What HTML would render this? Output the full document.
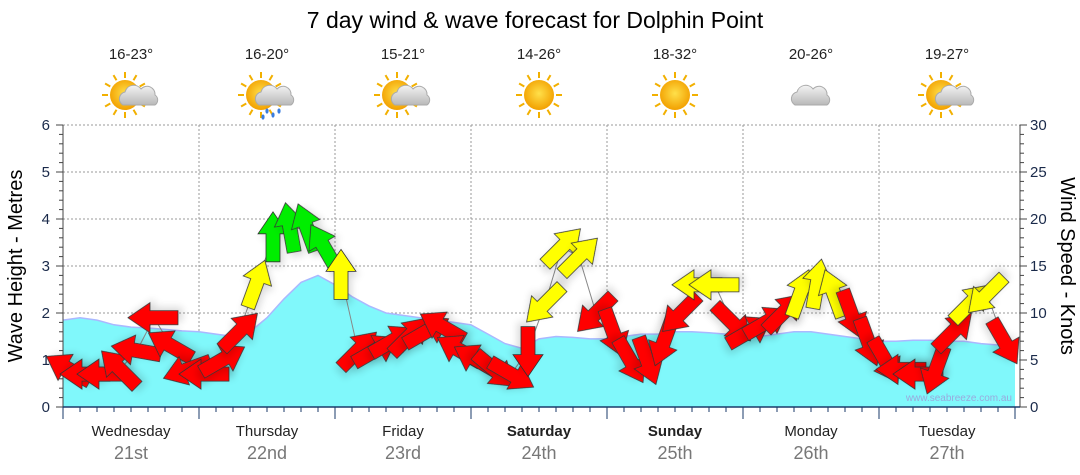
<!DOCTYPE html>
<html><head><meta charset="utf-8"><style>
body{margin:0;background:#fff;width:1080px;height:475px;overflow:hidden;font-family:"Liberation Sans",sans-serif}
svg{display:block}
</style></head><body>
<svg id="c" width="1080" height="475">
<defs>
<radialGradient id="sun" cx="50%" cy="45%" r="55%"><stop offset="0" stop-color="#ffe04a"/><stop offset="1" stop-color="#f2a000"/></radialGradient>
<linearGradient id="cloud" x1="0" y1="0" x2="0" y2="1"><stop offset="0" stop-color="#f4f4f4"/><stop offset="1" stop-color="#b8b8b8"/></linearGradient>
<filter id="sh" x="-50%" y="-50%" width="200%" height="200%"><feGaussianBlur in="SourceAlpha" stdDeviation="4"/><feOffset dx="3" dy="4"/><feComponentTransfer><feFuncA type="linear" slope="0.15"/></feComponentTransfer><feMerge><feMergeNode/><feMergeNode in="SourceGraphic"/></feMerge></filter>
</defs>
<text x="535" y="28" text-anchor="middle" font-size="23" fill="#000">7 day wind &amp; wave forecast for Dolphin Point</text>
</svg>
<script>
const days=["Wednesday","Thursday","Friday","Saturday","Sunday","Monday","Tuesday"];
const dates=["21st","22nd","23rd","24th","25th","26th","27th"];
const temps=["16-23°","16-20°","15-21°","14-26°","18-32°","20-26°","19-27°"];
const icons=["suncloud","rain","suncloud","sun","sun","cloud","suncloud"];
const waveHeights=[1.85,1.9,1.85,1.75,1.7,1.68,1.65,1.62,1.6,1.55,1.5,1.6,1.9,2.3,2.65,2.8,2.6,2.35,2.15,2.0,1.95,1.9,1.85,1.8,1.75,1.55,1.35,1.25,1.45,1.5,1.48,1.45,1.45,1.5,1.55,1.55,1.6,1.6,1.58,1.55,1.55,1.5,1.55,1.6,1.6,1.55,1.5,1.45,1.4,1.4,1.42,1.42,1.4,1.4,1.35,1.32,1.3];
const windSpeeds=[4,3.5,3.5,4,6,9.5,6.5,4,3.5,5,8,13,18,19,19,17,14,6,6,7,7.5,8,8.5,6,5,4,3.5,6,11,17,16,10,8,5,5,7,10,13,13,9,8,9,10,12,13,12,10,7,5,4,3.5,4,8,11,12,7];
const windDirs=[300,270,270,315,280,270,300,250,270,60,45,20,0,350,340,330,0,45,60,60,45,60,300,300,300,130,120,180,225,45,45,225,160,150,160,200,225,270,270,135,60,60,45,20,10,340,160,160,150,270,270,200,45,45,225,150];
const windColors=["r","r","r","r","r","r","r","r","r","r","r","y","g","g","g","g","y","r","r","r","r","r","r","r","r","r","r","r","y","y","y","r","r","r","r","r","r","y","y","r","r","r","r","y","y","y","r","r","r","r","r","r","r","y","y","r"];
const svg=document.getElementById('c');const NS="http://www.w3.org/2000/svg";
const L=63,R=1015,T=125,B=407;
const xT=t=>L+t*17;const yW=m=>B-m*(B-T)/6;const yK=k=>B-k*(B-T)/30;
function mk(tag,at,parent){const e=document.createElementNS(NS,tag);for(const k in at)e.setAttribute(k,at[k]);(parent||svg).appendChild(e);return e;}
for(let m=1;m<=6;m++){const g=mk('line',{x1:L,x2:1020,y1:yW(m),y2:yW(m),stroke:'#999','stroke-dasharray':'2,2'});

}
for(let d=1;d<7;d++){const g=mk('line',{x1:L+d*136,x2:L+d*136,y1:T,y2:B,stroke:'#999','stroke-dasharray':'2,2'});

}
let p='M'+xT(0)+','+B;waveHeights.forEach((h,i)=>p+=' L'+Math.min(xT(i),R)+','+yW(h).toFixed(1));p+=' L'+R+','+B+' Z';
const wa=mk('path',{d:p,fill:'#80f8fb'});


let pl='';waveHeights.forEach((h,i)=>pl+=(i?' L':'M')+Math.min(xT(i),R)+','+yW(h).toFixed(1));
const wl=mk('path',{d:pl,fill:'none',stroke:'#aab8ff','stroke-width':1.5});


mk('line',{x1:L,x2:L,y1:T,y2:B,stroke:'#444'});mk('line',{x1:1020,x2:1020,y1:T,y2:B,stroke:'#444'});
mk('line',{x1:L,x2:1020,y1:B,y2:B,stroke:'#1a3a6a','stroke-width':1.5});
for(let i=0;i<=30;i++){const y=B-i*(B-T)/30;mk('line',{x1:L-(i%5?4:7),x2:L,y1:y,y2:y,stroke:'#444'});mk('line',{x1:1020,x2:1020+(i%5?4:7),y1:y,y2:y,stroke:'#444'});}
for(let m=0;m<=6;m++){const t=mk('text',{x:50,y:yW(m)+5,'text-anchor':'end','font-size':15,fill:'#1a2a4a'});t.textContent=m;

}
for(let k=0;k<=30;k+=5){const t=mk('text',{x:1030,y:yK(k)+5,'font-size':15,fill:'#1a2a4a'});t.textContent=k;

}
for(let i=0;i<=56;i++){const x=xT(i);mk('line',{x1:x,x2:x,y1:B,y2:B+(i%8?5:12),stroke:'#1a3a6a'});}
const yt=mk('text',{x:0,y:0,transform:'translate(22,266) rotate(-90)','text-anchor':'middle','font-size':20,fill:'#000'});yt.textContent='Wave Height - Metres';


const yt2=mk('text',{x:0,y:0,transform:'translate(1061,266) rotate(90)','text-anchor':'middle','font-size':20,fill:'#000'});yt2.textContent='Wind Speed - Knots';


const wm=mk('text',{x:1012,y:401,'text-anchor':'end','font-size':10,fill:'#9ad'});wm.textContent='www.seabreeze.com.au';


days.forEach((d,i)=>{const cx=L+136*(i+0.5);
const a=mk('text',{x:cx,y:436,'text-anchor':'middle','font-size':15,fill:'#222','font-weight':(i==3||i==4)?'bold':'normal'});a.textContent=d;


const b=mk('text',{x:cx,y:459,'text-anchor':'middle','font-size':18,fill:'#777'});b.textContent=dates[i];


const c=mk('text',{x:cx,y:59,'text-anchor':'middle','font-size':15,fill:'#222'});c.textContent=temps[i];


const g=mk('g',{transform:'translate('+cx+',95)'});


const ic=icons[i];
if(ic!='cloud'){const sx=ic=='sun'?0:-6;for(let r=0;r<12;r++){const an=r*30*Math.PI/180;mk('line',{x1:sx+Math.cos(an)*17,y1:Math.sin(an)*17,x2:sx+Math.cos(an)*23,y2:Math.sin(an)*23,stroke:'#f2b000','stroke-width':2},g);}mk('circle',{cx:sx,cy:0,r:15,fill:'url(#sun)'},g);}
if(ic!='sun'){const ox=ic=='cloud'?0:8;mk('path',{d:`M${ox-16},10 a7,7 0 0 1 2,-13 a9,9 0 0 1 16,-3 a8,8 0 0 1 14,6 a6,6 0 0 1 0,10 Z`,fill:'url(#cloud)',stroke:'#aaa'},g);}
if(ic=='rain'){[[0,16],[6,20],[12,16],[-4,22]].forEach(q=>mk('ellipse',{cx:q[0],cy:q[1],rx:1.6,ry:2.6,fill:'#3a7de0'},g));}
});
const col={r:'#ff0000',y:'#ffff00',g:'#00ee00'};
let cp='';windSpeeds.forEach((s,i)=>cp+=(i?' L':'M')+(xT(i)+6)+','+yK(s).toFixed(1));
mk('path',{d:cp,fill:'none',stroke:'#888','stroke-width':1});
windSpeeds.forEach((s,i)=>{const a=mk('polygon',{points:'0,-26 15,-4 7,-4 7,24 -7,24 -7,-4 -15,-4',fill:col[windColors[i]],stroke:'#333','stroke-width':0.8,filter:'url(#sh)',transform:`translate(${xT(i)+6},${yK(s).toFixed(1)}) rotate(${windDirs[i]})`});

});
</script>
</body></html>
